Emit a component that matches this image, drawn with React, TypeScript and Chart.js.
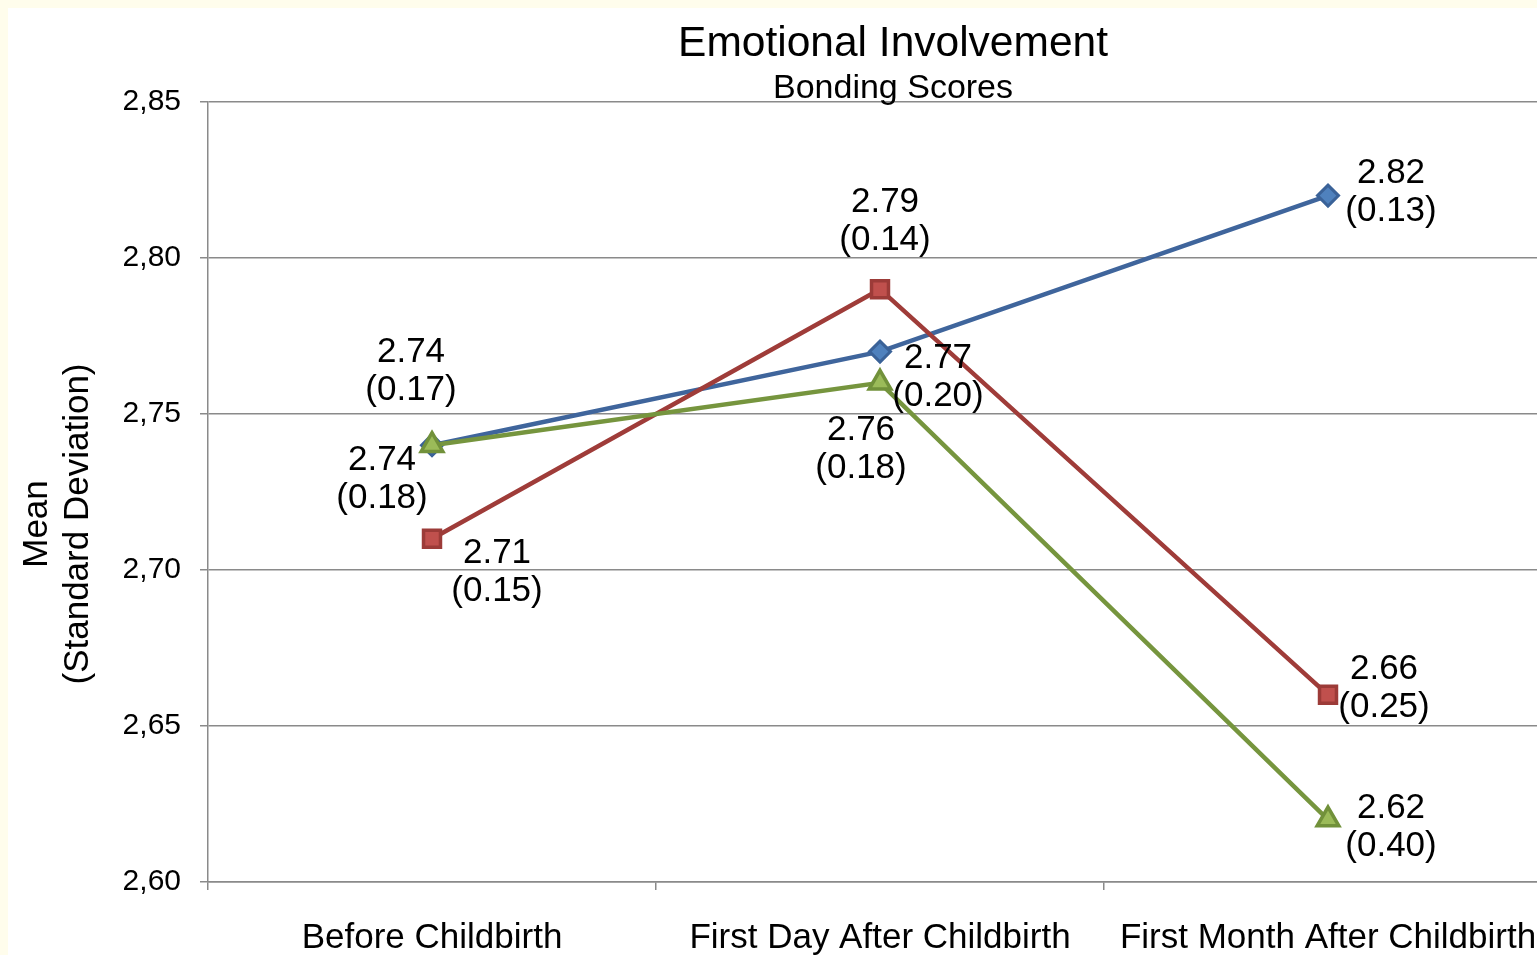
import React, { useEffect, useRef } from "react";
import { Chart, registerables } from "chart.js";

Chart.register(...registerables);

const categories = ["Before Childbirth", "First Day After Childbirth", "First Month After Childbirth"];
const titleText = "Emotional Involvement";
const subtitleText = "Bonding Scores";
const yTitleLines = ["Mean", "(Standard Deviation)"];

const blueMeans = [2.74, 2.77, 2.82];
const blueSD = [0.17, 0.2, 0.13];
const redMeans = [2.71, 2.79, 2.66];
const redSD = [0.15, 0.14, 0.25];
const greenMeans = [2.74, 2.76, 2.62];
const greenSD = [0.18, 0.18, 0.4];

const yTickValues = [2.6, 2.65, 2.7, 2.75, 2.8, 2.85];

// label offsets (dx, dy) of the label block centre relative to the point
const blueOffsets = [[-21, -74], [58, 26], [63, -3]];
const redOffsets = [[65, 34], [5, -68], [56, -6]];
const greenOffsets = [[-50, 34], [-19, 67], [63, 8]];

const FONT = "'Liberation Sans', Arial, Helvetica, sans-serif";
const GRID = "#8a8a8a";

const sdLists = [blueSD, redSD, greenSD];
const offsetLists = [blueOffsets, redOffsets, greenOffsets];

const labelPlugin = {
  id: "customText",
  afterDatasetsDraw(chart: any) {
    const ctx = chart.ctx;
    ctx.save();
    ctx.fillStyle = "#000";
    ctx.textAlign = "center";
    ctx.textBaseline = "middle";
    // data labels
    ctx.font = `35px ${FONT}`;
    chart.data.datasets.forEach((ds: any, di: number) => {
      const meta = chart.getDatasetMeta(di);
      meta.data.forEach((pt: any, i: number) => {
        const [dx, dy] = offsetLists[di][i];
        const v = ds.data[i] as number;
        const sd = sdLists[di][i];
        const cx = pt.x + dx;
        const cy = pt.y + dy;
        ctx.fillText(v.toFixed(2), cx, cy - 19);
        ctx.fillText(`(${sd.toFixed(2)})`, cx, cy + 19);
      });
    });
    // titles
    ctx.font = `42.5px ${FONT}`;
    ctx.fillText(titleText, 885, 36);
    ctx.font = `34px ${FONT}`;
    ctx.fillText(subtitleText, 885, 81);
    // y title
    ctx.font = `35px ${FONT}`;
    ctx.translate(0, 516);
    ctx.rotate(-Math.PI / 2);
    ctx.fillText(yTitleLines[0], 0, 29);
    ctx.fillText(yTitleLines[1], 0, 70);
    ctx.restore();
  },
};

export default function App() {
  const ref = useRef<HTMLCanvasElement>(null);
  useEffect(() => {
    document.body.style.margin = "0";
    const chart = new Chart(ref.current as HTMLCanvasElement, {
      type: "line",
      data: {
        labels: categories,
        datasets: [
          {
            label: "Series 1",
            data: blueMeans,
            borderColor: "#3F659C",
            borderWidth: 4.5,
            pointStyle: "rectRot",
            pointRadius: 10.5,
            pointBackgroundColor: "#4F81BD",
            pointBorderColor: "#3A6298",
            pointBorderWidth: 3,
            order: 3,
            tension: 0,
          },
          {
            label: "Series 2",
            data: redMeans,
            borderColor: "#9F3C39",
            borderWidth: 4.5,
            pointStyle: "rect",
            pointRadius: 12,
            pointBackgroundColor: "#C0504D",
            pointBorderColor: "#9C3B38",
            pointBorderWidth: 3.5,
            order: 2,
            tension: 0,
          },
          {
            label: "Series 3",
            data: greenMeans,
            borderColor: "#76953E",
            borderWidth: 4.5,
            pointStyle: "triangle",
            pointRadius: 12.5,
            pointBackgroundColor: "#9BBB59",
            pointBorderColor: "#71913A",
            pointBorderWidth: 3.5,
            order: 1,
            tension: 0,
          },
        ],
      },
      options: {
        animation: false,
        responsive: false,
        layout: { padding: { top: 94, right: 4, left: 0, bottom: 0 } },
        plugins: {
          legend: { display: false },
          title: { display: false },
          tooltip: { enabled: false },
        },
        scales: {
          x: {
            offset: true,
            grid: {
              display: true,
              offset: true,
              drawOnChartArea: false,
              drawTicks: true,
              tickLength: 8,
              color: GRID,
              lineWidth: 1.5,
            },
            border: { display: true, color: GRID, width: 1.5 },
            ticks: {
              color: "#000",
              font: { family: FONT, size: 35 },
              padding: 27,
              maxRotation: 0,
              autoSkip: false,
            },
            afterFit(scale: any) {
              scale.height = 73;
            },
          },
          y: {
            min: 2.6,
            max: 2.85,
            afterBuildTicks(scale: any) {
              scale.ticks = yTickValues.map((v) => ({ value: v }));
            },
            grid: {
              color: GRID,
              lineWidth: 1.5,
              drawTicks: true,
              tickLength: 8,
            },
            border: { display: true, color: GRID, width: 1.5 },
            ticks: {
              color: "#000",
              font: { family: FONT, size: 30 },
              padding: 19,
              callback: (v: any) => Number(v).toFixed(2).replace(".", ","),
            },
            afterFit(scale: any) {
              scale.width = 200;
            },
          },
        },
      },
      plugins: [labelPlugin],
    });
    return () => chart.destroy();
  }, []);
  return (
    <div
      style={{
        position: "absolute",
        left: 0,
        top: 0,
        width: 1537,
        height: 955,
        overflow: "hidden",
        background: "#fffdec",
      }}
    >
      <div style={{ position: "absolute", left: 8, top: 8, width: 1560, height: 947, background: "#fff" }}>
        <canvas ref={ref} width={1560} height={947} style={{ display: "block" }} />
      </div>
    </div>
  );
}
